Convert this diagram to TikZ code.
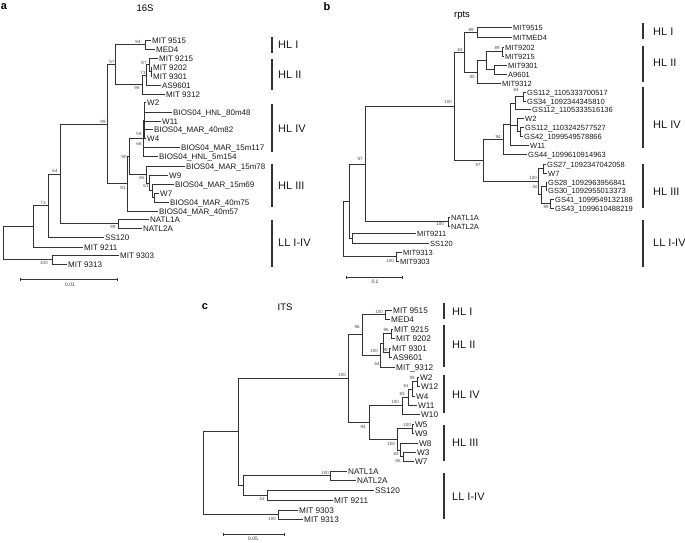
\documentclass[tikz,border=0pt]{standalone}
\usepackage{fontspec}
\setmainfont{Liberation Sans}
\begin{document}
\begin{tikzpicture}[x=1pt,y=-1pt,
  br/.style={line width=0.75pt,draw=black!80},
  leafbase/.style={anchor=west,inner xsep=1pt,inner ysep=0pt,text height=0.72em,text depth=0pt,text=black!90},
  la/.style={leafbase,font=\fontsize{8}{8}\selectfont},
  lb/.style={leafbase,font=\fontsize{7.5}{7.5}\selectfont},
  lc/.style={leafbase,font=\fontsize{8.2}{8.2}\selectfont},
  bs/.style={inner sep=0pt,font=\fontsize{4.5}{4.5}\selectfont,text=black!70},
  cbar/.style={line width=1.3pt,draw=black!80},
  clade/.style={anchor=west,inner sep=0pt,font=\fontsize{11}{11}\selectfont,text=black!90},
  ttl/.style={inner sep=0pt,font=\fontsize{9.5}{9.5}\selectfont},
  plet/.style={inner sep=0pt,font=\fontsize{11}{11}\selectfont\bfseries},
  sbar/.style={line width=0.7pt,draw=black!80},
  sbl/.style={inner sep=0pt,font=\fontsize{5}{5}\selectfont,text=black!80}]
\useasboundingbox (0,0) rectangle (685,542);

% ================= panel a =================
\node[plet] (pa) at (4,7) {a};
\node[ttl] (ta) at (145,8) {16S};
\node[la] (aL1) at (151,40) {MIT 9515};
\node[la] (aL2) at (155,49) {MED4};
\node[la] (aL3) at (158,58) {MIT 9215};
\node[la] (aL4) at (152,67) {MIT 9202};
\node[la] (aL5) at (152,76) {MIT 9301};
\node[la] (aL6) at (161,85) {AS9601};
\node[la] (aL7) at (165,94) {MIT 9312};
\node[la] (aL8) at (146,102) {W2};
\node[la] (aL9) at (172,112) {BIOS04\_HNL\_80m48};
\node[la] (aL10) at (161,121) {W11};
\node[la] (aL11) at (153,129) {BIOS04\_MAR\_40m82};
\node[la] (aL12) at (146,138) {W4};
\node[la] (aL13) at (180,147) {BIOS04\_MAR\_15m117};
\node[la] (aL14) at (158,156) {BIOS04\_HNL\_5m154};
\node[la] (aL15) at (185,166) {BIOS04\_MAR\_15m78};
\node[la] (aL16) at (168,175) {W9};
\node[la] (aL17) at (174,184) {BIOS04\_MAR\_15m69};
\node[la] (aL18) at (159,193) {W7};
\node[la] (aL19) at (169,202) {BIOS04\_MAR\_40m75};
\node[la] (aL20) at (158,211) {BIOS04\_MAR\_40m57};
\node[la] (aL21) at (149,219) {NATL1A};
\node[la] (aL22) at (142,228) {NATL2A};
\node[la] (aL23) at (104,237) {SS120};
\node[la] (aL24) at (83,247) {MIT 9211};
\node[la] (aL25) at (119,255) {MIT 9303};
\node[la] (aL26) at (67,264) {MIT 9313};

\coordinate (a94) at (145,44.5);
\coordinate (a87b) at (151,71.5);
\coordinate (a87) at (149,64.75);
\coordinate (a73) at (146,75);
\coordinate (a96) at (142,84.5);
\coordinate (a57) at (115,64.5);
\coordinate (a58) at (144.5,120);
\coordinate (a66) at (143,138);
\coordinate (aIIIs) at (154,197.5);
\coordinate (a61) at (152,190.75);
\coordinate (a85) at (149,183);
\coordinate (aIII) at (146,174.5);
\coordinate (a90) at (129,156);
\coordinate (a91) at (127,183);
\coordinate (a99in) at (107,124);
\coordinate (aNATL) at (118,223.5);
\coordinate (a99) at (60,174);
\coordinate (a64) at (48,205.5);
\coordinate (a71) at (33,226);
\coordinate (a100) at (52,259.5);
\coordinate (aroot) at (3,243);

\foreach \p/\c in {a94/aL1,a94/aL2,a87b/aL4,a87b/aL5,a87/aL3,a87/a87b,a73/a87,a73/aL6,
  a96/a73,a96/aL7,a57/a94,a57/a96,a58/aL8,a58/aL9,a58/aL10,a58/aL11,a58/aL12,
  a66/a58,a66/aL13,a66/aL14,aIIIs/aL18,aIIIs/aL19,a61/aL17,a61/aIIIs,a85/aL16,a85/a61,
  aIII/aL15,aIII/a85,a90/a66,a90/aIII,a91/a90,a91/aL20,a99in/a57,a99in/a91,
  aNATL/aL21,aNATL/aL22,a99/a99in,a99/aNATL,a64/a99,a64/aL23,a71/a64,a71/aL24,
  a100/aL25,a100/aL26,aroot/a71,aroot/a100}
  \draw[br] (\p) |- (\c);

\node[bs] (ab1) at (138,42) {94};
\node[bs] (ab2) at (144,63) {87};
\node[bs] (ab3) at (143,72.5) {73};
\node[bs] (ab4) at (137,88) {96};
\node[bs] (ab5) at (112,62) {57};
\node[bs] (ab6) at (139,134) {58};
\node[bs] (ab7) at (139,144) {66};
\node[bs] (ab8) at (124,157) {90};
\node[bs] (ab9) at (142,178) {85};
\node[bs] (ab10) at (146,186) {61};
\node[bs] (ab11) at (123,188) {91};
\node[bs] (ab12) at (113,227) {99};
\node[bs] (ab13) at (103,122) {99};
\node[bs] (ab14) at (55,171) {64};
\node[bs] (ab15) at (43,203) {71};
\node[bs] (ab16) at (44,263) {100};

\coordinate (asb1) at (20,279); \coordinate (asb2) at (117,279);
\draw[sbar] (asb1) -- (asb2);
\draw[sbar] ([yshift=-1.5pt]asb1) -- ([yshift=1.5pt]asb1);
\draw[sbar] ([yshift=-1.5pt]asb2) -- ([yshift=1.5pt]asb2);
\node[sbl] (asl) at (70,284.5) {0.01};

\foreach \n/\t/\b/\m/\lab in {aI/37/53/45/HL I,aII/59/90/75/HL II,aIV/104/152/129/HL IV,aIIIc/164/207/186/HL III,aLL/220/267/243/LL I-IV}{
  \coordinate (\n t) at (272,\t); \coordinate (\n b) at (272,\b);
  \draw[cbar] (\n t) -- (\n b);
  \node[clade] (\n l) at (278,\m) {\lab};
}

% ================= panel b =================
\node[plet] (pb) at (327,7) {b};
\node[ttl] (tb) at (462,15) {rpts};
\node[lb] (bL1) at (512,27) {MIT9515};
\node[lb] (bL2) at (512,37) {MITMED4};
\node[lb] (bL3) at (504,47) {MIT9202};
\node[lb] (bL4) at (504,56) {MIT9215};
\node[lb] (bL5) at (507,65) {MIT9301};
\node[lb] (bL6) at (507,74) {A9601};
\node[lb] (bL7) at (501,83) {MIT9312};
\node[lb] (bL8) at (526,92) {GS112\_1105333700517};
\node[lb] (bL9) at (526,101) {GS34\_1092344345810};
\node[lb] (bL10) at (531,109) {GS112\_1105333516136};
\node[lb] (bL11) at (524,118) {W2};
\node[lb] (bL12) at (524,127) {GS112\_1103242577527};
\node[lb] (bL13) at (523,136) {GS42\_1099549578866};
\node[lb] (bL14) at (529,145) {W11};
\node[lb] (bL15) at (527,154) {GS44\_1099610914963};
\node[lb] (bL16) at (546,164) {GS27\_1092347042058};
\node[lb] (bL17) at (547,173) {W7};
\node[lb] (bL18) at (547,182) {GS28\_1092963956841};
\node[lb] (bL19) at (547,190) {GS30\_1092955013373};
\node[lb] (bL20) at (554,199) {GS41\_1099549132188};
\node[lb] (bL21) at (554,208) {GS43\_1099610488219};
\node[lb] (bL22) at (450,217) {NATL1A};
\node[lb] (bL23) at (450,226) {NATL2A};
\node[lb] (bL24) at (416,233) {MIT9211};
\node[lb] (bL25) at (429,243) {SS120};
\node[lb] (bL26) at (402,252) {MIT9313};
\node[lb] (bL27) at (399,261) {MIT9303};

\coordinate (b89) at (477,32);
\coordinate (b89b) at (502,51.5);
\coordinate (b494) at (494,69.5);
\coordinate (b486) at (486,60.5);
\coordinate (b80) at (477,72);
\coordinate (b63) at (464,52);
\coordinate (bA) at (523,96.5);
\coordinate (bB) at (515,103);
\coordinate (bC) at (520,131.5);
\coordinate (bD) at (517,125);
\coordinate (bE) at (510,124);
\coordinate (b94) at (503,139);
\coordinate (bP) at (543,168.5);
\coordinate (bQ) at (546,186);
\coordinate (bR) at (550,203.5);
\coordinate (bS) at (541,194.75);
\coordinate (b100b) at (538,181.6);
\coordinate (b97) at (483,160);
\coordinate (b100) at (454,106);
\coordinate (bNATL) at (448,221.5);
\coordinate (b87) at (365,164);
\coordinate (bSS) at (352,238);
\coordinate (bA2) at (349,201);
\coordinate (bMIT) at (396,256.5);
\coordinate (broot) at (343,228.75);

\foreach \p/\c in {b89/bL1,b89/bL2,b89b/bL3,b89b/bL4,b494/bL5,b494/bL6,b486/b89b,b486/b494,
  b80/b486,b80/bL7,b63/b89,b63/b80,bA/bL8,bA/bL9,bB/bA,bB/bL10,bC/bL12,bC/bL13,
  bD/bL11,bD/bC,bE/bB,bE/bD,bE/bL14,b94/bE,b94/bL15,bP/bL16,bP/bL17,bQ/bL18,bQ/bL19,
  bR/bL20,bR/bL21,bS/bQ,bS/bR,b100b/bP,b100b/bS,b97/b94,b97/b100b,b100/b63,b100/b97,
  bNATL/bL22,bNATL/bL23,b87/b100,b87/bNATL,bSS/bL24,bSS/bL25,bA2/b87,bA2/bSS,
  bMIT/bL26,bMIT/bL27,broot/bA2,broot/bMIT}
  \draw[br] (\p) |- (\c);

\node[bs] (bb1) at (471,29.5) {89};
\node[bs] (bb2) at (460,50) {63};
\node[bs] (bb3) at (497,48) {89};
\node[bs] (bb4) at (472,77) {80};
\node[bs] (bb5) at (448,102) {100};
\node[bs] (bb6) at (516,89.5) {64};
\node[bs] (bb7) at (498,137) {94};
\node[bs] (bb8) at (478,164.5) {97};
\node[bs] (bb9) at (533,178) {100};
\node[bs] (bb10) at (535,187) {50};
\node[bs] (bb11) at (546,207) {89};
\node[bs] (bb12) at (360,159) {87};
\node[bs] (bb13) at (440,224) {100};
\node[bs] (bb14) at (390,261) {100};

\coordinate (bsb1) at (346,277); \coordinate (bsb2) at (402,277);
\draw[sbar] (bsb1) -- (bsb2);
\draw[sbar] ([yshift=-1.5pt]bsb1) -- ([yshift=1.5pt]bsb1);
\draw[sbar] ([yshift=-1.5pt]bsb2) -- ([yshift=1.5pt]bsb2);
\node[sbl] (bsl) at (375,282) {0.1};

\foreach \n/\t/\b/\m/\lab in {bI/23/39/32/HL I,bII/46/82/63/HL II,bIV/87/148/125/HL IV,bIIIc/164/208/192/HL III,bLL/220/267/243/LL I-IV}{
  \coordinate (\n t) at (643,\t); \coordinate (\n b) at (643,\b);
  \draw[cbar] (\n t) -- (\n b);
  \node[clade] (\n l) at (653,\m) {\lab};
}

% ================= panel c =================
\node[plet] (pc) at (205,307) {c};
\node[ttl] (tc) at (285,307) {ITS};
\node[lc] (cL1) at (392,310) {MIT 9515};
\node[lc] (cL2) at (390,319) {MED4};
\node[lc] (cL3) at (393,329) {MIT 9215};
\node[lc] (cL4) at (395,338) {MIT 9202};
\node[lc] (cL5) at (391,348) {MIT 9301};
\node[lc] (cL6) at (392,357) {AS9601};
\node[lc] (cL7) at (395,367) {MIT\_9312};
\node[lc] (cL8) at (419,377) {W2};
\node[lc] (cL9) at (420,386) {W12};
\node[lc] (cL10) at (415,396) {W4};
\node[lc] (cL11) at (417,405) {W11};
\node[lc] (cL12) at (420,414) {W10};
\node[lc] (cL13) at (414,424) {W5};
\node[lc] (cL14) at (414,433) {W9};
\node[lc] (cL15) at (418,443) {W8};
\node[lc] (cL16) at (416,452) {W3};
\node[lc] (cL17) at (414,461) {W7};
\node[lc] (cL18) at (347,471) {NATL1A};
\node[lc] (cL19) at (356,480) {NATL2A};
\node[lc] (cL20) at (374,490) {SS120};
\node[lc] (cL21) at (333,500) {MIT 9211};
\node[lc] (cL22) at (298,510) {MIT 9303};
\node[lc] (cL23) at (303,519) {MIT 9313};

\coordinate (cHLI) at (385,314.5);
\coordinate (c96a) at (391,333.5);
\coordinate (c99) at (389,352.5);
\coordinate (c100h) at (383,343);
\coordinate (c64) at (380,355);
\coordinate (c96) at (362,334.75);
\coordinate (c99b) at (417,381.5);
\coordinate (c61) at (412,389);
\coordinate (c83) at (408,397);
\coordinate (c100iv) at (402,405.5);
\coordinate (c100w) at (412,428.5);
\coordinate (c65) at (403,456.5);
\coordinate (c63) at (400,450);
\coordinate (c100iii) at (397,439);
\coordinate (c94) at (369,422);
\coordinate (c100) at (348,378.4);
\coordinate (cNATL) at (330,475.5);
\coordinate (c51) at (267,495);
\coordinate (c243) at (243,485);
\coordinate (c238) at (238,431.7);
\coordinate (cMIT) at (278,514.5);
\coordinate (croot) at (203,473);

\foreach \p/\c in {cHLI/cL1,cHLI/cL2,c96a/cL3,c96a/cL4,c99/cL5,c99/cL6,c100h/c96a,c100h/c99,
  c64/c100h,c64/cL7,c96/cHLI,c96/c64,c99b/cL8,c99b/cL9,c61/c99b,c61/cL10,c83/c61,c83/cL11,
  c100iv/c83,c100iv/cL12,c100w/cL13,c100w/cL14,c65/cL16,c65/cL17,c63/cL15,c63/c65,
  c100iii/c100w,c100iii/c63,c94/c100iv,c94/c100iii,c100/c96,c100/c94,cNATL/cL18,cNATL/cL19,
  c51/cL20,c51/cL21,c243/cNATL,c243/c51,c238/c100,c238/c243,cMIT/cL22,cMIT/cL23,
  croot/c238,croot/cMIT}
  \draw[br] (\p) |- (\c);

\node[bs] (cb1) at (379,312) {100};
\node[bs] (cb2) at (357,327) {96};
\node[bs] (cb3) at (386,330) {96};
\node[bs] (cb4) at (374,351) {100};
\node[bs] (cb5) at (385,349.5) {99};
\node[bs] (cb6) at (377,364) {64};
\node[bs] (cb7) at (342,374.5) {100};
\node[bs] (cb8) at (412,377.5) {99};
\node[bs] (cb9) at (406,385.5) {61};
\node[bs] (cb10) at (402,393.5) {83};
\node[bs] (cb11) at (395,402) {100};
\node[bs] (cb12) at (363,427) {94};
\node[bs] (cb13) at (407,425) {100};
\node[bs] (cb14) at (391,443.5) {100};
\node[bs] (cb15) at (396,454) {63};
\node[bs] (cb16) at (398,461) {65};
\node[bs] (cb17) at (325,473) {100};
\node[bs] (cb18) at (262,499) {51};
\node[bs] (cb19) at (272,519) {100};

\coordinate (csb1) at (223,534); \coordinate (csb2) at (284,534);
\draw[sbar] (csb1) -- (csb2);
\draw[sbar] ([yshift=-1.5pt]csb1) -- ([yshift=1.5pt]csb1);
\draw[sbar] ([yshift=-1.5pt]csb2) -- ([yshift=1.5pt]csb2);
\node[sbl] (csl) at (253,539) {0.05};

\foreach \n/\t/\b/\m/\lab in {cI/303/319/312/HL I,cII/325/367/345/HL II,cIV/375/413/395/HL IV,cIIIc/425/461/443/HL III,cLL/473/519/497/LL I-IV}{
  \coordinate (\n t) at (444,\t); \coordinate (\n b) at (444,\b);
  \draw[cbar] (\n t) -- (\n b);
  \node[clade] (\n l) at (452,\m) {\lab};
}
\end{tikzpicture}
\end{document}
